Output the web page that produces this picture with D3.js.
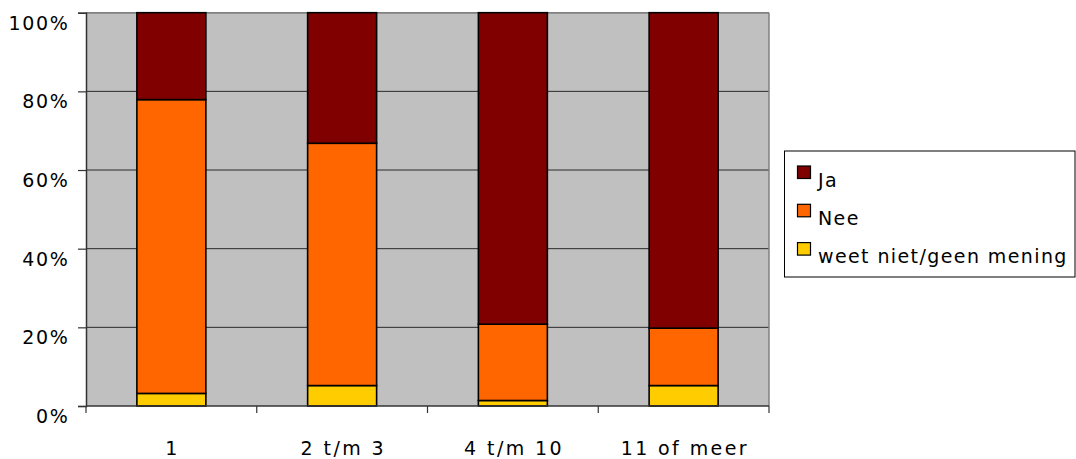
<!DOCTYPE html>
<html>
<head>
<meta charset="utf-8">
<script src="https://d3js.org/d3.v7.min.js"></script>
<style>
    body { margin: 0; background: #fff; }
    text { font-family: "DejaVu Sans", Verdana, sans-serif; fill: #000; }
</style>
</head>
<body>
<div id="chart"></div>
<script>
// Data (percent per category)
var categories = ["1", "2 t/m 3", "4 t/m 10", "11 of meer"];
var weetNiet = [3.2, 5.2, 1.4, 5.2];
var nee = [74.7, 61.6, 19.4, 14.6];
var ja = [22.1, 33.2, 79.2, 80.2];
var seriesNames = ["weet niet/geen mening", "Nee", "Ja"];
var yTicks = [0, 20, 40, 60, 80, 100];

var colors = {
    "Ja": "#800000",
    "Nee": "#FF6600",
    "weet niet/geen mening": "#FFCC00"
};

var svgWidth = 1076;
var svgHeight = 459;

var margin = { top: 12.7, left: 86, right: 307, bottom: 53 };
var width = svgWidth - margin.left - margin.right;
var height = svgHeight - margin.top - margin.bottom;

var svg = d3.select("#chart")
    .append("svg")
    .attr("width", svgWidth)
    .attr("height", svgHeight);

var chartGroup = svg.append("g")
    .attr("transform", `translate(${margin.left}, ${margin.top})`);

// build table for the stack
var table = categories.map(function (c, i) {
    return {
        cat: c,
        "weet niet/geen mening": weetNiet[i],
        "Nee": nee[i],
        "Ja": ja[i]
    };
});
var stacked = d3.stack().keys(seriesNames)(table);

// scales
var xScale = d3.scaleBand()
    .domain(categories)
    .range([0, width])
    .paddingInner(0.596)
    .paddingOuter(0.298);

var yScale = d3.scaleLinear()
    .domain([0, 100])
    .range([height, 0]);

// plot background
chartGroup.append("rect")
    .attr("width", width)
    .attr("height", height)
    .attr("fill", "#C0C0C0");

// gridlines
chartGroup.append("g")
    .selectAll("line")
    .data(yTicks.slice(1))
    .enter()
    .append("line")
    .attr("x1", 0)
    .attr("x2", width)
    .attr("y1", d => yScale(d))
    .attr("y2", d => yScale(d))
    .attr("stroke", "#2a2a2a")
    .attr("stroke-width", 1);

// top / right border of plot area
chartGroup.append("line")
    .attr("x1", width).attr("x2", width)
    .attr("y1", 0).attr("y2", height)
    .attr("stroke", "#808080")
    .attr("stroke-width", 1.5);
chartGroup.append("line")
    .attr("x1", 0).attr("x2", width)
    .attr("y1", 0).attr("y2", 0)
    .attr("stroke", "#808080")
    .attr("stroke-width", 1.5);

// bars
chartGroup.append("g")
    .selectAll("g")
    .data(stacked)
    .enter()
    .append("g")
    .attr("fill", d => colors[d.key])
    .selectAll("rect")
    .data(d => d)
    .enter()
    .append("rect")
    .attr("x", d => xScale(d.data.cat))
    .attr("y", d => yScale(d[1]))
    .attr("width", xScale.bandwidth())
    .attr("height", d => yScale(d[0]) - yScale(d[1]))
    .attr("stroke", "#000")
    .attr("stroke-width", 1.6);

// y axis
var yAxis = d3.axisLeft(yScale)
    .tickValues(yTicks)
    .tickSize(8)
    .tickPadding(10)
    .tickFormat(d => d + "%");

var yAxisGroup = chartGroup.append("g").call(yAxis);
yAxisGroup.select(".domain").attr("stroke", "#333").attr("stroke-width", 1.5);
yAxisGroup.selectAll(".tick line").attr("stroke", "#333").attr("stroke-width", 1.2);
yAxisGroup.selectAll(".tick text")
    .attr("font-size", "19px")
    .attr("font-family", "DejaVu Sans, Verdana, sans-serif")
    .attr("letter-spacing", "1.7px")
    .attr("fill", "#000")
    .attr("dy", "16.5")
    .attr("x", -16.5);

// x axis: ticks sit between the categories
var xAxisGroup = chartGroup.append("g")
    .attr("transform", `translate(0, ${height})`);

xAxisGroup.append("line")
    .attr("x1", 0).attr("x2", width)
    .attr("stroke", "#333")
    .attr("stroke-width", 1.5);

var boundaries = d3.range(categories.length + 1).map(i => i * xScale.step());
xAxisGroup.selectAll(".xtick")
    .data(boundaries)
    .enter()
    .append("line")
    .attr("class", "xtick")
    .attr("x1", d => d).attr("x2", d => d)
    .attr("y1", 0).attr("y2", 7)
    .attr("stroke", "#333")
    .attr("stroke-width", 1.2);

xAxisGroup.selectAll(".xlabel")
    .data(categories)
    .enter()
    .append("text")
    .attr("class", "xlabel")
    .attr("x", d => xScale(d) + xScale.bandwidth() / 2 + 1.2)
    .attr("y", 49)
    .attr("text-anchor", "middle")
    .attr("font-size", "19px")
    .attr("letter-spacing", "2.4px")
    .text(d => d);

// legend
var legend = svg.append("g")
    .attr("transform", "translate(784.5, 151)");

legend.append("rect")
    .attr("width", 290.5)
    .attr("height", 126)
    .attr("fill", "#fff")
    .attr("stroke", "#000")
    .attr("stroke-width", 1);

var legendItems = ["Ja", "Nee", "weet niet/geen mening"];
var items = legend.selectAll(".item")
    .data(legendItems)
    .enter()
    .append("g")
    .attr("class", "item")
    .attr("transform", (d, i) => `translate(0, ${i * 38.3})`);

items.append("rect")
    .attr("x", 13)
    .attr("y", 15)
    .attr("width", 13)
    .attr("height", 12.5)
    .attr("fill", d => colors[d])
    .attr("stroke", "#000")
    .attr("stroke-width", 1.2);

items.append("text")
    .attr("x", 33.5)
    .attr("y", 35.7)
    .attr("font-size", "19px")
    .attr("letter-spacing", "1.4px")
    .text(d => d);
</script>
</body>
</html>
